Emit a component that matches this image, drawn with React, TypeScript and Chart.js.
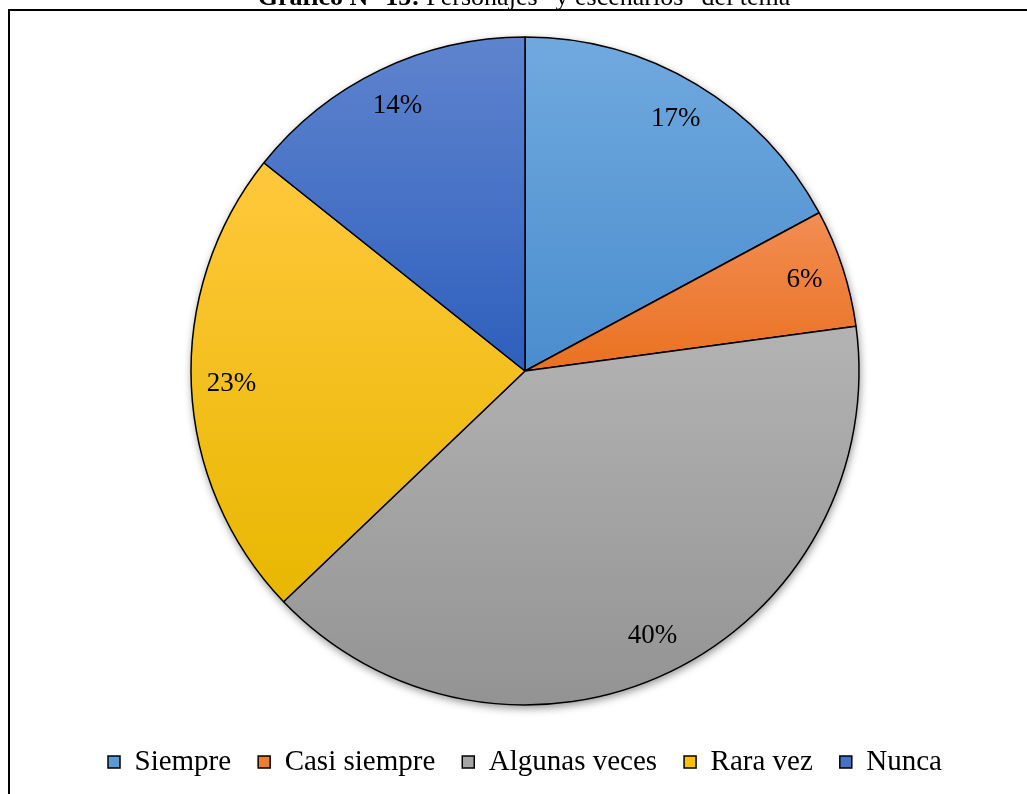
import React, { useEffect, useRef } from "react";
import { Chart, registerables } from "chart.js";

Chart.register(...registerables);

const titleBold = "Gráfico N° 15: ";
const titleRest = "Personajes” y escenarios” del tema";
const categories = ["Siempre", "Casi siempre", "Algunas veces", "Rara vez", "Nunca"];
const counts = [6, 2, 14, 8, 5];
const lightColors = ["#70A9DE", "#F28D53", "#B3B3B3", "#FFC83C", "#5F84CE"];
const darkColors = ["#4A8DCE", "#EA7121", "#939393", "#E8B700", "#2E5FBD"];
const baseColors = ["#5B9BD5", "#ED7D31", "#A5A5A5", "#FFC000", "#4472C4"];

const SERIF = "'Liberation Serif', 'Times New Roman', serif";

const framePlugin = {
  id: "frameTitle",
  beforeDraw(chart: any) {
    const ctx = chart.ctx;
    ctx.save();
    ctx.fillStyle = "#ffffff";
    ctx.fillRect(0, 0, chart.width, chart.height);
    ctx.strokeStyle = "#000000";
    ctx.lineWidth = 2;
    ctx.beginPath();
    ctx.moveTo(8, 10);
    ctx.lineTo(chart.width, 10);
    ctx.moveTo(9, 10);
    ctx.lineTo(9, chart.height);
    ctx.stroke();
    ctx.fillStyle = "#000000";
    ctx.textBaseline = "alphabetic";
    ctx.font = `bold 26px ${SERIF}`;
    const w1 = ctx.measureText(titleBold).width;
    ctx.font = `26px ${SERIF}`;
    const w2 = ctx.measureText(titleRest).width;
    const x0 = 524 - (w1 + w2) / 2;
    ctx.font = `bold 26px ${SERIF}`;
    ctx.fillText(titleBold, x0, 5);
    ctx.font = `26px ${SERIF}`;
    ctx.fillText(titleRest, x0 + w1, 5);
    ctx.restore();
  },
};

const pieDecor = {
  id: "pieDecor",
  beforeDatasetsDraw(chart: any) {
    const meta = chart.getDatasetMeta(0);
    const ctx = chart.ctx;
    if (!meta.data.length) return;
    const first = meta.data[0];
    const { x, y, outerRadius } = first.getProps(["x", "y", "outerRadius"], true);
    ctx.save();
    ctx.shadowColor = "rgba(0,0,0,0.45)";
    ctx.shadowBlur = 9;
    ctx.shadowOffsetY = 3;
    ctx.shadowOffsetX = 1;
    ctx.fillStyle = "#888888";
    ctx.beginPath();
    ctx.arc(x, y, outerRadius, 0, Math.PI * 2);
    ctx.fill();
    ctx.restore();
    meta.data.forEach((arc: any, i: number) => {
      const p = arc.getProps(["x", "y", "startAngle", "endAngle", "outerRadius"], true);
      const ys = [p.y, p.y + p.outerRadius * Math.sin(p.startAngle), p.y + p.outerRadius * Math.sin(p.endAngle)];
      const inRange = (a: number) => {
        let t = a;
        while (t < p.startAngle) t += Math.PI * 2;
        return t <= p.endAngle;
      };
      if (inRange(-Math.PI / 2)) ys.push(p.y - p.outerRadius);
      if (inRange(Math.PI / 2)) ys.push(p.y + p.outerRadius);
      const ymin = Math.min(...ys);
      const ymax = Math.max(...ys);
      const g = ctx.createLinearGradient(0, ymin, 0, ymax);
      g.addColorStop(0, lightColors[i]);
      g.addColorStop(1, darkColors[i]);
      arc.options.backgroundColor = g;
    });
  },
  afterDatasetsDraw(chart: any) {
    const meta = chart.getDatasetMeta(0);
    const ctx = chart.ctx;
    const data = chart.data.datasets[0].data as number[];
    const total = data.reduce((a, b) => a + b, 0);
    ctx.save();
    ctx.fillStyle = "#000000";
    ctx.font = `27px ${SERIF}`;
    ctx.textAlign = "center";
    ctx.textBaseline = "middle";
    meta.data.forEach((arc: any, i: number) => {
      const p = arc.getProps(["x", "y", "startAngle", "endAngle", "outerRadius"], true);
      const mid = (p.startAngle + p.endAngle) / 2;
      const r = p.outerRadius * 0.88;
      const label = Math.round((data[i] / total) * 100) + "%";
      ctx.fillText(label, p.x + r * Math.cos(mid), p.y + r * Math.sin(mid));
    });
    ctx.restore();
  },
};

export default function App() {
  const ref = useRef<HTMLCanvasElement | null>(null);
  useEffect(() => {
    if (!ref.current) return;
    const chart = new Chart(ref.current, {
      type: "pie",
      data: {
        labels: categories,
        datasets: [
          {
            data: counts,
            backgroundColor: baseColors,
            borderColor: "#000000",
            borderWidth: 1.5,
            radius: 334,
          } as any,
        ],
      },
      options: {
        responsive: false,
        animation: false,
        devicePixelRatio: 1,
        layout: { padding: { left: 23, right: 0, top: 21.5, bottom: 7.5 } },
        plugins: {
          legend: {
            position: "bottom",
            labels: {
              font: { family: SERIF, size: 29 },
              color: "#000000",
              boxWidth: 12,
              boxHeight: 12,
              padding: 27,
            },
          },
          tooltip: { enabled: false },
        },
      },
      plugins: [framePlugin, pieDecor],
    });
    return () => chart.destroy();
  }, []);
  return (
    <div style={{ position: "fixed", left: 0, top: 0, width: 1027, height: 794, background: "#fff" }}>
      <canvas ref={ref} width={1027} height={794} style={{ width: 1027, height: 794, display: "block" }} />
    </div>
  );
}
